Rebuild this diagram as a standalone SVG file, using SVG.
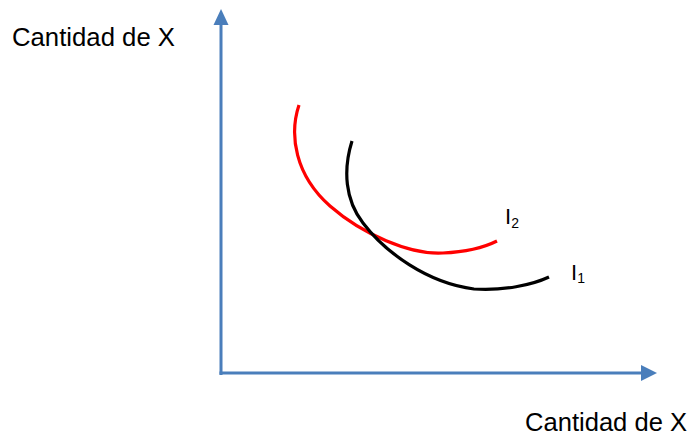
<svg xmlns="http://www.w3.org/2000/svg" width="692" height="437" viewBox="0 0 692 437">
<style>
.axis{stroke:#4A7EBB;stroke-width:3;fill:none}
.head{fill:#4A7EBB}
.curve{fill:none;stroke-width:3.2;stroke-linecap:butt}
.lbl{font-family:"Liberation Sans",Arial,sans-serif;fill:#000}
</style>
<rect width="692" height="437" fill="#fff"/>
<g id="axes">
<line class="axis" x1="221" y1="375" x2="221" y2="22"/>
<polygon class="head" points="221,9 213.5,25 228.5,25"/>
<line class="axis" x1="219.5" y1="373" x2="643" y2="373"/>
<polygon class="head" points="657,373 641,365 641,381"/>
</g>
<g id="connectors">
<path id="I2-curve" class="curve" stroke="#FF0000" d="M299,105 C289,135 295,175 330,206 C362,234 410,255 443,253 C465,252 485,247 497,241"/>
<path id="I1-curve" class="curve" stroke="#000000" d="M352,141 C343,170 345,200 363,223 C385,252 427,283 474,289 C503,291 532,285 549,277"/>
</g>
<g id="label-y"><text class="lbl" x="12" y="46" font-size="26" textLength="163" lengthAdjust="spacingAndGlyphs">Cantidad de X</text></g>
<g id="label-x"><text class="lbl" x="525" y="431" font-size="25" textLength="162" lengthAdjust="spacingAndGlyphs">Cantidad de X</text></g>
<g id="label-I2"><text class="lbl" x="505" y="224" font-size="22">I<tspan font-size="14" y="228">2</tspan></text></g>
<g id="label-I1"><text class="lbl" x="571" y="280" font-size="22">I<tspan font-size="14" y="283">1</tspan></text></g>
</svg>
